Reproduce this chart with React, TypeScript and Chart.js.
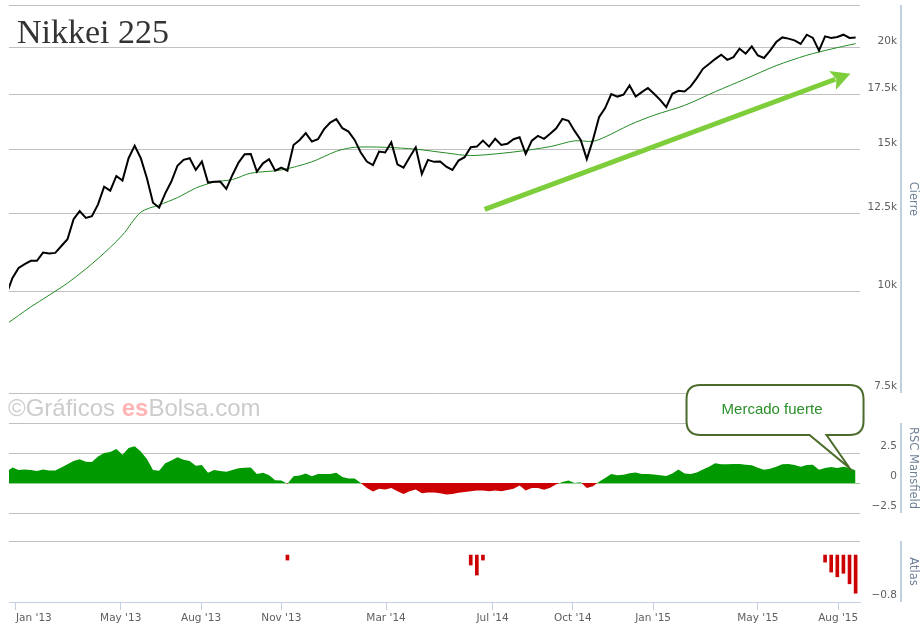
import { useEffect, useRef } from "react";
import { Chart, registerables } from "chart.js";

Chart.register(...registerables);

// Cierres semanales (viernes) desde el 21-dic-2012 hasta el 21-ago-2015
const FIRST_WEEK = "2012-12-21";

const closes = [
  9930, 10400, 10700, 10820, 10920, 10920, 11180, 11150, 11170, 11390,
  11610, 12290, 12580, 12340, 12400, 12820, 13480, 13330, 13900, 13720,
  14620, 15150, 14620, 13810, 12880, 12700, 13230, 13680, 14310, 14550,
  14620, 14140, 14480, 13640, 13670, 13680, 13400, 13940, 14440, 14790,
  14800, 14070, 14410, 14580, 14110, 14230, 14110, 15180, 15400, 15700,
  15330, 15430, 15880, 16180, 16340, 15920, 15770, 15400, 14860, 14480,
  14340, 14900, 14860, 15300, 14370, 14230, 14660, 15080, 13980, 14550,
  14470, 14480, 14270, 14140, 14520, 14660, 15080, 15110, 15370, 15110,
  15450, 15180, 15230, 15430, 15520, 14800, 15370, 15580, 15450, 15670,
  15920, 16350, 16260, 15800, 15400, 14580, 15400, 16430, 16860, 17540,
  17420, 17510, 17980, 17420, 17640, 17850, 17560, 17260, 16900, 17560,
  17710, 17670, 17930, 18360, 18850, 19110, 19380, 19620, 19340, 19490,
  19960, 19680, 20090, 19580, 19440, 19850, 20340, 20610, 20540, 20440,
  20230, 20770, 20580, 19850, 20670, 20580, 20640, 20770, 20580, 20610,
];

const maWeeks = [0, 4, 10, 15, 19, 22, 25, 28, 31, 34, 37, 40, 45, 50, 54, 57, 62, 67, 72, 76, 83, 89, 93, 96, 98, 102, 106, 111, 116, 121, 126, 131, 135, 139];
const maValues = [9120, 9580, 10250, 10990, 11750, 12540, 12800, 13070, 13430, 13660, 13760, 14010, 14140, 14470, 14910, 15080, 15080, 15000, 14840, 14730, 14880, 15110, 15360, 15340, 15530, 16070, 16520, 16990, 17660, 18320, 19020, 19590, 19940, 20250];

const rscMansfield = [
  0.93, 1.3, 1.08, 1.13, 1.08, 0.99, 1.13, 1.05, 1.05, 1.3,
  1.56, 1.84, 1.98, 1.78, 1.76, 2.21, 2.49, 2.58, 2.83, 2.35,
  2.92, 3.06, 2.63, 2.01, 1.08, 1.02, 1.64, 1.87, 2.15, 1.93,
  1.84, 1.44, 1.5, 0.85, 1.08, 0.99, 0.93, 1.08, 1.22, 1.27,
  1.3, 0.74, 0.85, 0.65, 0.23, 0.2, -0.06, 0.57, 0.62, 0.79,
  0.57, 0.74, 0.74, 0.76, 0.85, 0.51, 0.37, 0.37, 0.0, -0.42,
  -0.71, -0.48, -0.54, -0.42, -0.68, -0.91, -0.68, -0.54, -0.85, -0.79,
  -0.8, -0.85, -0.96, -0.91, -0.82, -0.76, -0.68, -0.62, -0.62, -0.68,
  -0.62, -0.68, -0.59, -0.48, -0.2, -0.62, -0.42, -0.42, -0.57, -0.4,
  -0.11, 0.08, 0.2, 0.0, 0.06, -0.42, -0.28, 0.11, 0.42, 0.76,
  0.65, 0.68, 0.82, 0.88, 0.74, 0.74, 0.71, 0.65, 0.59, 0.79,
  1.13, 0.79, 0.76, 0.88, 1.13, 1.36, 1.64, 1.56, 1.56, 1.59,
  1.59, 1.53, 1.47, 1.27, 1.1, 1.19, 1.36, 1.56, 1.59, 1.5,
  1.36, 1.5, 1.53, 1.1, 1.25, 1.33, 1.25, 1.36, 1.25, 1.05,
];

const atlasWeeks = [46, 76, 77, 78, 134, 135, 136, 137, 138, 139];
const atlasValues = [-0.085, -0.17, -0.34, -0.085, -0.12, -0.29, -0.37, -0.31, -0.49, -0.65];

const dateTicks = ["2013-01-01", "2013-05-01", "2013-08-01", "2013-11-01", "2014-03-01", "2014-07-01", "2014-10-01", "2015-01-01", "2015-05-01", "2015-08-01"];
const dateTickLabels = ["Jan '13", "May '13", "Aug '13", "Nov '13", "Mar '14", "Jul '14", "Oct '14", "Jan '15", "May '15", "Aug '15"];

const priceTicks = [7500, 10000, 12500, 15000, 17500, 20000];
const priceTickLabels = ["7.5k", "10k", "12.5k", "15k", "17.5k", "20k"];
const rscTicks = [-2.5, 0, 2.5, 5];
const rscTickLabels = ["\u22122.5", "0", "2.5", ""];
const atlasTicks = [-0.8];
const atlasTickLabels = ["\u22120.8"];

// flecha de tendencia y llamada (en coordenadas de datos)
const ARROW_FROM = { date: "2014-06-22", value: 12640 };
const ARROW_TO = { date: "2015-08-15", value: 18590 };
const CALLOUT_WEEK = 138;
const CALLOUT_TEXT = "Mercado fuerte";

const DAY = 86400000;
const dayOf = (iso: string) => (Date.parse(iso) - Date.parse("2013-01-01")) / DAY;
const weekX = (i: number) => dayOf(FIRST_WEEK) + 7 * i;

const X_MIN = dayOf("2012-12-24");
const X_MAX = dayOf("2015-08-26");
const PRICE_MIN = 7500;
const PRICE_MAX = 22600;
const ATLAS_MAX = 0.24;
const tickDays = dateTicks.map(dayOf);

const FONT = '"DejaVu Sans", Verdana, sans-serif';
const AXIS_W = 37;
const PAD_RIGHT = 27;
const GRID = "#C0C0C0";
const AXIS_BLUE = "#C0D0E0";
const LABEL = "#606060";
const TITLE = "#6E8096";

const axisLinePlugin = {
  id: "axisLine",
  afterDraw(chart: any) {
    const { ctx, chartArea } = chart;
    const x = Math.round(chartArea.right + 41);
    ctx.save();
    ctx.strokeStyle = AXIS_BLUE;
    ctx.lineWidth = 2;
    ctx.beginPath();
    ctx.moveTo(x, chartArea.top);
    ctx.lineTo(x, chartArea.bottom);
    ctx.stroke();
    ctx.restore();
  },
};

const arrowPlugin = {
  id: "trendArrow",
  afterDatasetsDraw(chart: any) {
    const { ctx, scales } = chart;
    const x1 = scales.x.getPixelForValue(dayOf(ARROW_FROM.date));
    const y1 = scales.y.getPixelForValue(ARROW_FROM.value);
    const x2 = scales.x.getPixelForValue(dayOf(ARROW_TO.date));
    const y2 = scales.y.getPixelForValue(ARROW_TO.value);
    const len = Math.hypot(x2 - x1, y2 - y1);
    const ux = (x2 - x1) / len;
    const uy = (y2 - y1) / len;
    const head = 19;
    const half = 10;
    const bx = x2 - ux * head;
    const by = y2 - uy * head;
    ctx.save();
    ctx.strokeStyle = "#7DCE3A";
    ctx.fillStyle = "#7DCE3A";
    ctx.lineWidth = 5;
    ctx.beginPath();
    ctx.moveTo(x1, y1);
    ctx.lineTo(bx + ux * 3, by + uy * 3);
    ctx.stroke();
    ctx.beginPath();
    ctx.moveTo(x2, y2);
    ctx.lineTo(bx - uy * half, by + ux * half);
    ctx.lineTo(bx + ux * 4, by + uy * 4);
    ctx.lineTo(bx + uy * half, by - ux * half);
    ctx.closePath();
    ctx.fill();
    ctx.restore();
  },
};

const calloutPlugin = {
  id: "callout",
  afterDraw(chart: any) {
    const pt = chart.getDatasetMeta(0).data[CALLOUT_WEEK];
    if (!pt) return;
    const { ctx } = chart;
    const ax = pt.x;
    const ay = pt.y;
    const l = ax - 163;
    const r = ax + 14;
    const t = ay - 83;
    const b = ay - 33;
    const rad = 14;
    ctx.save();
    ctx.beginPath();
    ctx.moveTo(l + rad, t);
    ctx.lineTo(r - rad, t);
    ctx.quadraticCurveTo(r, t, r, t + rad);
    ctx.lineTo(r, b - rad);
    ctx.quadraticCurveTo(r, b, r - rad, b);
    ctx.lineTo(ax - 23, b);
    ctx.lineTo(ax, ay);
    ctx.lineTo(ax - 40, b);
    ctx.lineTo(l + rad, b);
    ctx.quadraticCurveTo(l, b, l, b - rad);
    ctx.lineTo(l, t + rad);
    ctx.quadraticCurveTo(l, t, l + rad, t);
    ctx.closePath();
    ctx.fillStyle = "#FFFFFF";
    ctx.fill();
    ctx.strokeStyle = "#4B6B2A";
    ctx.lineWidth = 2;
    ctx.stroke();
    ctx.fillStyle = "#2A8F2A";
    ctx.font = '15px "Liberation Sans", Arial, sans-serif';
    ctx.textAlign = "center";
    ctx.textBaseline = "middle";
    ctx.fillText(CALLOUT_TEXT, (l + r) / 2 - 3, (t + b) / 2);
    ctx.restore();
  },
};

const hiddenX = { type: "linear", display: false, min: X_MIN, max: X_MAX, bounds: "data", offset: false };

// eje derecho: etiquetas alineadas a la derecha, titulo girado mas a la derecha
const rightAxis = (title: string) => ({
  position: "right",
  bounds: "data",
  afterFit: (s: any) => {
    s.width = AXIS_W;
    s.paddingTop = 0;
    s.paddingBottom = 0;
  },
  border: { display: false },
  title: { display: true, text: title, color: TITLE, font: { family: FONT, size: 11.5 }, padding: { top: -23, bottom: 0 } },
  ticks: { color: LABEL, font: { family: FONT, size: 10.5 }, padding: 0, crossAlign: "far" },
});

export default function App() {
  const priceRef = useRef<HTMLCanvasElement>(null);
  const rscRef = useRef<HTMLCanvasElement>(null);
  const atlasRef = useRef<HTMLCanvasElement>(null);

  useEffect(() => {
    if (!priceRef.current || !rscRef.current || !atlasRef.current) return;

    const base = { responsive: true, maintainAspectRatio: false, animation: false, events: [] };
    const noLegend = { legend: { display: false }, tooltip: { enabled: false } };

    const priceAxis: any = rightAxis("Cierre");
    const priceChart = new Chart(priceRef.current, {
      type: "line",
      data: {
        datasets: [
          {
            data: closes.map((v, i) => ({ x: weekX(i), y: v })),
            borderColor: "#000000",
            borderWidth: 2,
            pointRadius: 0,
            tension: 0,
          },
          {
            data: maWeeks.map((w, i) => ({ x: weekX(w), y: maValues[i] })),
            borderColor: "#238B23",
            borderWidth: 1,
            pointRadius: 0,
            tension: 0.3,
          },
        ],
      },
      options: {
        ...base,
        layout: { padding: { top: 5, left: 9, right: PAD_RIGHT, bottom: 7 } },
        plugins: noLegend,
        scales: {
          x: hiddenX,
          y: {
            ...priceAxis,
            type: "logarithmic",
            min: PRICE_MIN,
            max: PRICE_MAX,
            afterBuildTicks: (s: any) => {
              s.ticks = [...priceTicks, PRICE_MAX].map((v) => ({ value: v }));
            },
            grid: { color: GRID, drawTicks: false },
            ticks: {
              ...priceAxis.ticks,
              callback: (v: number) => {
                const i = priceTicks.indexOf(v);
                return i >= 0 ? [priceTickLabels[i], ""] : "";
              },
            },
          },
        },
      },
      plugins: [axisLinePlugin, arrowPlugin],
    } as any);

    const rscAxis: any = rightAxis("RSC Mansfield");
    const rscChart = new Chart(rscRef.current, {
      type: "line",
      data: {
        datasets: [
          {
            data: rscMansfield.map((v, i) => ({ x: weekX(i), y: v })),
            borderWidth: 0,
            borderColor: "rgba(0,0,0,0)",
            pointRadius: 0,
            tension: 0,
            fill: { target: "origin", above: "#009900", below: "#CC0000" },
          },
        ],
      },
      options: {
        ...base,
        layout: { padding: { top: 48, left: 9, right: PAD_RIGHT, bottom: 7 } },
        plugins: noLegend,
        scales: {
          x: hiddenX,
          y: {
            ...rscAxis,
            type: "linear",
            min: -2.5,
            max: 5,
            afterBuildTicks: (s: any) => {
              s.ticks = rscTicks.map((v) => ({ value: v }));
            },
            grid: {
              drawTicks: false,
              color: (c: any) => (c.tick && c.tick.value === 0 ? "#8FD18F" : GRID),
            },
            ticks: {
              ...rscAxis.ticks,
              callback: (v: number) => {
                const i = rscTicks.indexOf(v);
                return i >= 0 && rscTickLabels[i] ? [rscTickLabels[i], ""] : "";
              },
            },
          },
        },
      },
      plugins: [axisLinePlugin, calloutPlugin],
    } as any);

    const atlasAxis: any = rightAxis("Atlas");
    const atlasChart = new Chart(atlasRef.current, {
      type: "bar",
      data: {
        datasets: [
          {
            data: atlasWeeks.map((w, i) => ({ x: weekX(w), y: atlasValues[i] })),
            backgroundColor: "#CC0000",
            barThickness: 3,
          },
        ],
      },
      options: {
        ...base,
        layout: { padding: { top: 21, left: 9, right: PAD_RIGHT, bottom: 0 } },
        plugins: noLegend,
        scales: {
          x: {
            type: "linear",
            min: X_MIN,
            max: X_MAX,
            bounds: "data",
            offset: false,
            afterBuildTicks: (s: any) => {
              s.ticks = [...tickDays, X_MAX].map((v) => ({ value: v }));
            },
            afterFit: (s: any) => {
              s.height = 23;
              s.paddingLeft = 0;
              s.paddingRight = 0;
            },
            grid: {
              offset: false,
              drawOnChartArea: false,
              drawTicks: true,
              tickLength: 8,
              color: AXIS_BLUE,
              tickColor: (c: any) => (c.tick && c.tick.value === X_MAX ? "rgba(0,0,0,0)" : AXIS_BLUE),
            },
            border: { display: true, color: AXIS_BLUE, width: 1 },
            ticks: {
              autoSkip: false,
              maxRotation: 0,
              align: "inner",
              padding: 2,
              color: LABEL,
              font: { family: FONT, size: 10.5 },
              callback: (v: number) => {
                const i = tickDays.indexOf(v);
                return i >= 0 ? dateTickLabels[i] : "";
              },
            },
          },
          y: {
            ...atlasAxis,
            type: "linear",
            min: -0.8,
            max: ATLAS_MAX,
            afterBuildTicks: (s: any) => {
              s.ticks = [...atlasTicks, ATLAS_MAX].map((v) => ({ value: v }));
            },
            grid: {
              drawTicks: false,
              color: (c: any) => (c.tick && c.tick.value === ATLAS_MAX ? GRID : "rgba(0,0,0,0)"),
            },
            ticks: {
              ...atlasAxis.ticks,
              callback: (v: number) => {
                const i = atlasTicks.indexOf(v);
                return i >= 0 ? [atlasTickLabels[i], ""] : "";
              },
            },
          },
        },
      },
      plugins: [axisLinePlugin],
    } as any);

    return () => {
      priceChart.destroy();
      rscChart.destroy();
      atlasChart.destroy();
    };
  }, []);

  const pane = (top: number, height: number) =>
    ({ position: "absolute", left: 0, top, width: 924, height } as const);

  return (
    <div style={{ position: "absolute", left: 0, top: 0, width: 924, height: 625, background: "#fff", overflow: "hidden" }}>
      <div style={pane(0, 400)}>
        <canvas ref={priceRef} />
      </div>
      <div style={pane(375, 145)}>
        <canvas ref={rscRef} />
      </div>
      <div style={pane(520, 105)}>
        <canvas ref={atlasRef} />
      </div>
      <div
        style={{
          position: "absolute",
          left: 17,
          top: 15,
          font: '34px/34px "Liberation Serif", "Times New Roman", serif',
          color: "#333",
          whiteSpace: "nowrap",
          pointerEvents: "none",
        }}
      >
        Nikkei 225
      </div>
      <div
        style={{
          position: "absolute",
          left: 8,
          top: 396,
          font: '24px/24px "Liberation Sans", Arial, sans-serif',
          color: "#CCCCCC",
          whiteSpace: "pre",
          pointerEvents: "none",
        }}
      >
        {"©Gráficos "}
        <span style={{ color: "#FFB3B3", fontWeight: "bold" }}>es</span>
        {"Bolsa.com"}
      </div>
    </div>
  );
}
